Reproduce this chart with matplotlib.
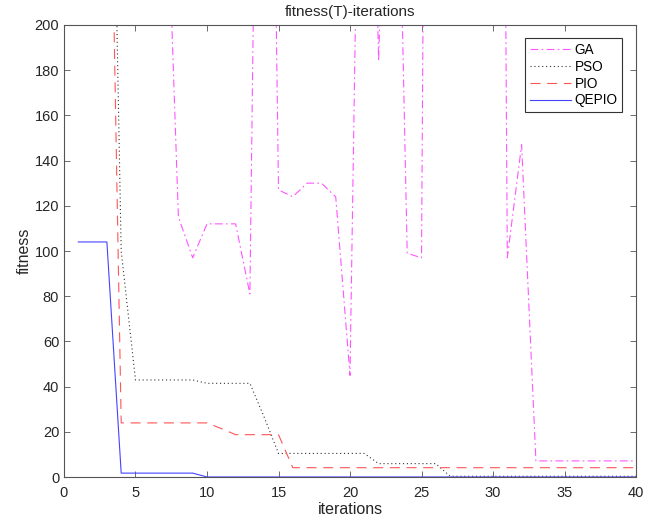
import numpy as np
import matplotlib
matplotlib.use("Agg")
import matplotlib.pyplot as plt

plt.rcParams['font.family'] = ['Liberation Sans', 'DejaVu Sans']

# iterations 1..40
iterations = list(range(1, 41))

# fitness values (values above 200 are off the chart)
ga = [900, 850, 800, 700, 600, 450, 300, 115, 97, 112,
      112, 112, 81, 600, 127, 124, 130, 130, 124, 45,
      460, 184, 400, 99, 97, 1100, 1100, 1100, 1100, 1100,
      97, 147, 7.2, 7.2, 7.2, 7.2, 7.2, 7.2, 7.2, 7.2]
pso = [1500, 1000, 433, 100, 43, 43, 43, 43, 43, 41.5,
       41.5, 41.5, 41.5, 26.5, 10.5, 10.5, 10.5, 10.5, 10.5, 10.5,
       10.5, 6, 6, 6, 6, 6, 0.4, 0.4, 0.4, 0.4,
       0.4, 0.4, 0.4, 0.4, 0.4, 0.4, 0.4, 0.4, 0.4, 0.4]
pio = [600, 500, 375, 24, 24, 24, 24, 24, 24, 24,
       21.5, 18.8, 18.8, 18.8, 18.8, 4.2, 4.2, 4.2, 4.2, 4.2,
       4.2, 4.2, 4.2, 4.2, 4.2, 4.2, 4.2, 4.2, 4.2, 4.2,
       4.2, 4.2, 4.2, 4.2, 4.2, 4.2, 4.2, 4.2, 4.2, 4.2]
qepio = [104, 104, 104, 1.8, 1.8, 1.8, 1.8, 1.8, 1.8, 0.1,
         0.1, 0.1, 0.1, 0.1, 0.1, 0.1, 0.1, 0.1, 0.1, 0.1,
         0.1, 0.1, 0.1, 0.1, 0.1, 0.1, 0.1, 0.1, 0.1, 0.1,
         0.1, 0.1, 0.1, 0.1, 0.1, 0.1, 0.1, 0.1, 0.1, 0.1]

fig = plt.figure(figsize=(6.53, 5.17), dpi=100)
ax = fig.add_axes([0.098, 0.077, 0.876, 0.875])

lw = 0.8
ax.plot(iterations, ga, color='#ff55ff', linewidth=lw, dashes=(7, 3, 1.5, 3), label='GA')
ax.plot(iterations, pso, color='#333333', linewidth=lw, dashes=(1, 2.5), label='PSO')
ax.plot(iterations, pio, color='#ff5555', linewidth=lw, dashes=(9, 6), label='PIO')
ax.plot(iterations, qepio, color='#4444ff', linewidth=lw, label='QEPIO')

ax.set_xlim(0, 40)
ax.set_ylim(0, 200)
ax.set_xticks(np.arange(0, 41, 5))
ax.set_yticks(np.arange(0, 201, 20))

for s in ax.spines.values():
    s.set_color('#555555')
    s.set_linewidth(0.8)
ax.tick_params(direction='in', top=True, right=True, length=4, width=0.6,
               colors='#555555', labelcolor='#262626', labelsize=10.5)
ax.tick_params(axis='x', pad=6)

ax.set_title('fitness(T)-iterations', fontsize=11, pad=6, color='#262626')
ax.set_xlabel('iterations', fontsize=11.5, labelpad=1.5, color='#262626')
ax.set_ylabel('fitness', fontsize=11.5, labelpad=2, color='#262626')

leg = ax.legend(loc='upper right', fontsize=9.8, fancybox=False, framealpha=1,
                edgecolor='#333333', handlelength=3.0, borderaxespad=1.0,
                borderpad=0.35, labelspacing=0.2, handletextpad=0.3)
leg.get_frame().set_linewidth(0.8)

fig.savefig('out.png', dpi=100, facecolor='white')
